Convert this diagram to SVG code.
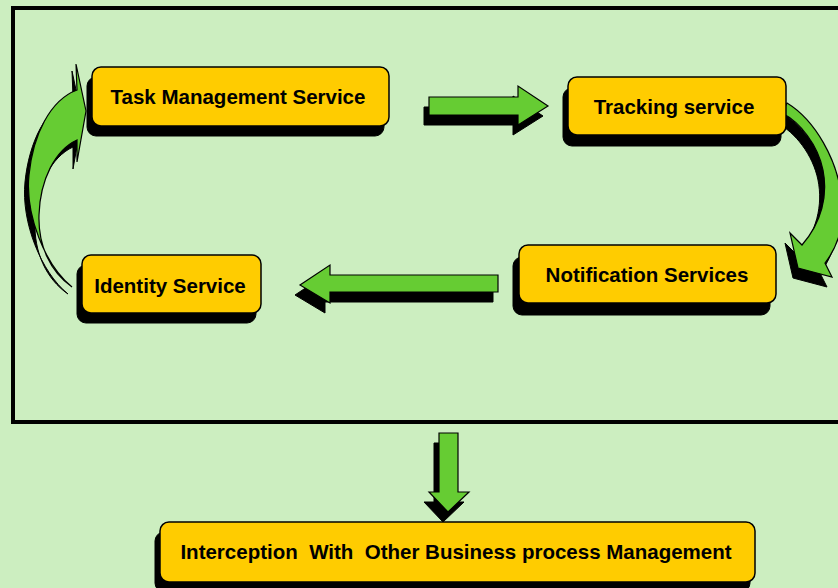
<svg xmlns="http://www.w3.org/2000/svg" width="838" height="588" viewBox="0 0 838 588">
<defs>
<style>
.bg{fill:#CCEEC0}
.frame{fill:none;stroke:#000;stroke-width:4}
.box{fill:#FFCC00;stroke:#000;stroke-width:1.5}
.shadow{fill:#000;stroke:#000;stroke-width:1}
.arrow{fill:#66CC33;stroke:#000;stroke-width:1.2;stroke-linejoin:miter}
.lbl{font-family:"Liberation Sans",Arial,sans-serif;font-weight:bold;font-size:20.5px;fill:#000;text-anchor:middle;white-space:pre}
</style>
</defs>
<rect class="bg" x="0" y="0" width="838" height="588"/>
<rect class="frame" x="13" y="8" width="840" height="414"/>

<g id="connectors">
  <g id="arrow-task-tracking">
    <polygon class="shadow" transform="translate(-5,10)" points="429,97 518,97 518,86 548,106 518,125 518,115 429,115"/>
    <polygon class="arrow" points="429,97 518,97 518,86 548,106 518,125 518,115 429,115"/>
  </g>
  <g id="arrow-tracking-notification">
    <path class="shadow" transform="translate(-5,10)" d="M787,103 C815,120 838,160 842,200 C845,230 835,250 825,263 L832,277 L798,268 L790,233 L802,245 C822,222 828,195 823,170 C818,145 800,122 782,113 Z"/>
    <path class="arrow" d="M787,103 C815,120 838,160 842,200 C845,230 835,250 825,263 L832,277 L798,268 L790,233 L802,245 C822,222 828,195 823,170 C818,145 800,122 782,113 Z"/>
  </g>
  <g id="arrow-notification-identity">
    <polygon class="shadow" transform="translate(-5,10)" points="498,275 330,275 330,265 300,285 330,303 330,292 498,292"/>
    <polygon class="arrow" points="498,275 330,275 330,265 300,285 330,303 330,292 498,292"/>
  </g>
  <g id="arrow-identity-task">
    <path class="shadow" transform="translate(-4,7)" d="M72,287 C45,265 25,215 29,175 C33,135 50,100 77,90 L76,64 L86,111 L77,162 L77,140 C55,150 40,180 39,215 C38,245 50,272 72,287 Z"/>
    <path class="arrow" d="M72,287 C45,265 25,215 29,175 C33,135 50,100 77,90 L76,64 L86,111 L77,162 L77,140 C55,150 40,180 39,215 C38,245 50,272 72,287 Z"/>
  </g>
  <g id="arrow-frame-interception">
    <polygon class="shadow" transform="translate(-5,10)" points="439,433 458,433 458,492 469,492 448,512 429,492 439,492"/>
    <polygon class="arrow" points="439,433 458,433 458,492 469,492 448,512 429,492 439,492"/>
  </g>
</g>

<g id="task-management">
  <rect class="shadow" x="87" y="77" width="297" height="59" rx="9"/>
  <rect class="box" x="92" y="67" width="297" height="59" rx="9"/>
  <text class="lbl" x="238" y="104">Task Management Service</text>
</g>
<g id="tracking">
  <rect class="shadow" x="563" y="88" width="218" height="58" rx="9"/>
  <rect class="box" x="568" y="77" width="218" height="58" rx="9"/>
  <text class="lbl" x="674" y="114">Tracking service</text>
</g>
<g id="notification">
  <rect class="shadow" x="513" y="257" width="257" height="58" rx="9"/>
  <rect class="box" x="519" y="245" width="257" height="58" rx="9"/>
  <text class="lbl" x="647" y="282">Notification Services</text>
</g>
<g id="identity">
  <rect class="shadow" x="77" y="265" width="179" height="58" rx="9"/>
  <rect class="box" x="82" y="255" width="179" height="58" rx="9"/>
  <text class="lbl" x="170" y="293">Identity Service</text>
</g>
<g id="interception">
  <rect class="shadow" x="155" y="532" width="595" height="60" rx="9"/>
  <rect class="box" x="160" y="522" width="595" height="60" rx="9"/>
  <text class="lbl" x="456" y="559" xml:space="preserve">Interception  With  Other Business process Management</text>
</g>
</svg>
